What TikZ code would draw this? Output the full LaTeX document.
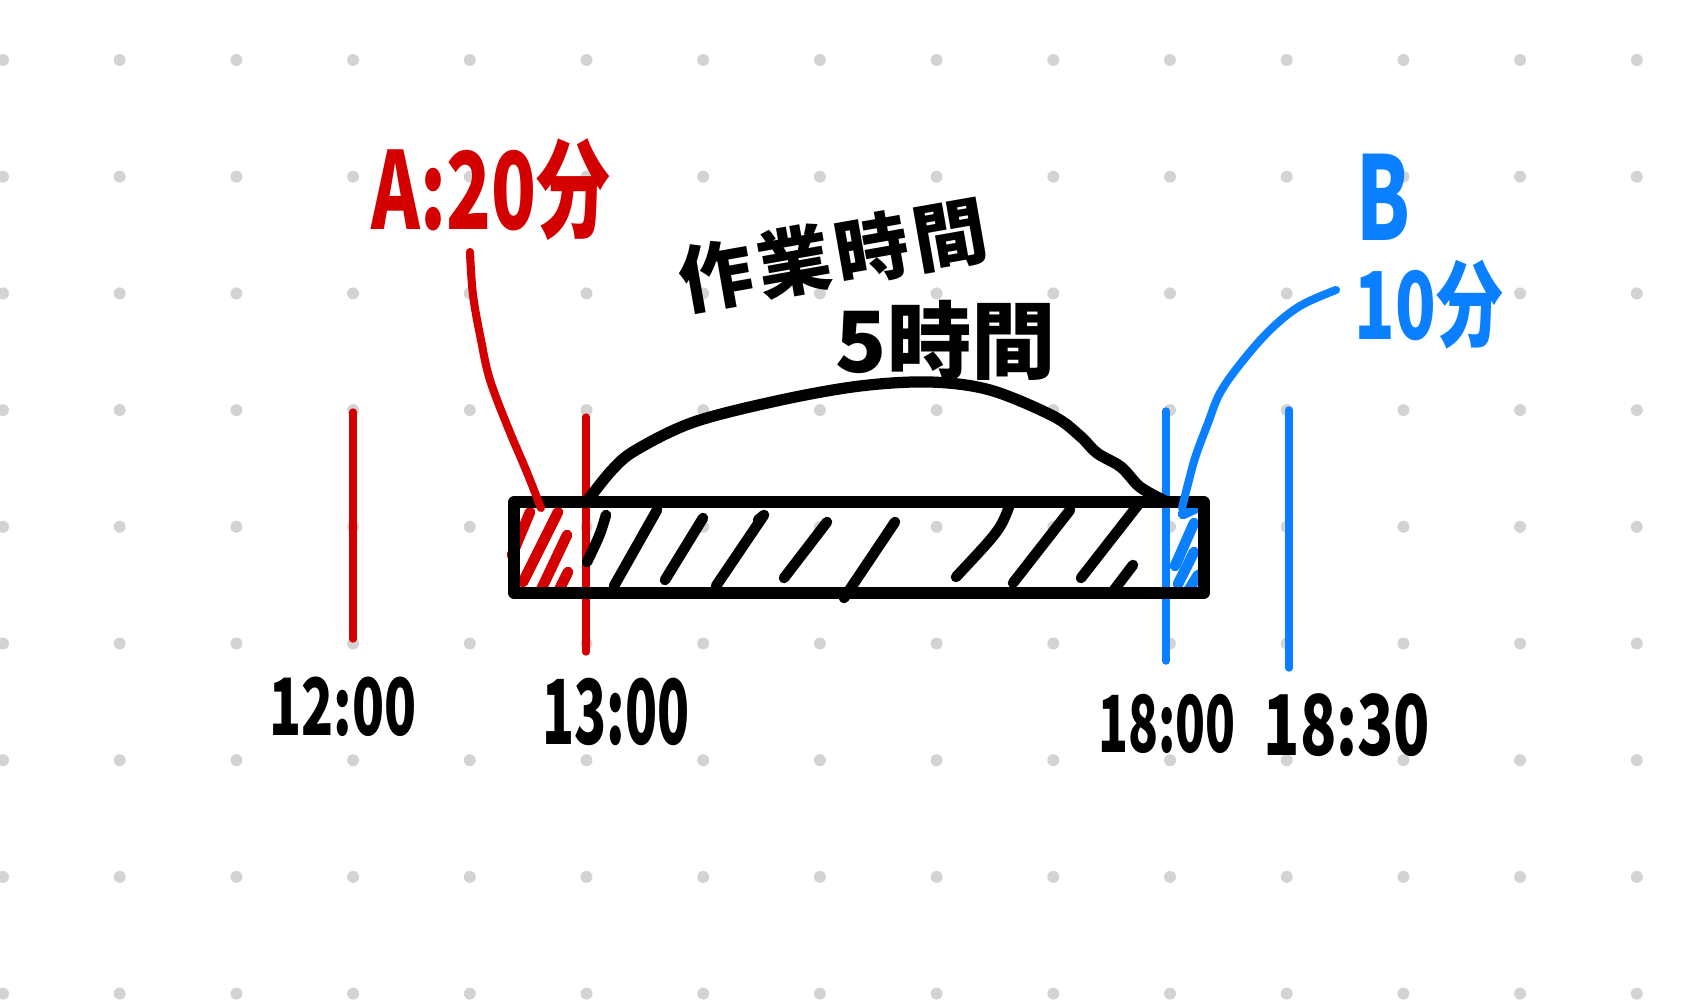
\documentclass[tikz,border=0pt]{standalone}
\usepackage{fontspec}
\newfontfamily\hand{Noto Sans CJK JP}
\definecolor{hred}{HTML}{D40000}
\definecolor{hblue}{HTML}{0A7FFF}
\definecolor{dotgray}{HTML}{D3D3D3}
\begin{document}
\begin{tikzpicture}[x=0.01cm,y=-0.01cm,line cap=round,line join=round,
  pen/.style={line width=3.2pt},
  hatchpen/.style={line width=3pt},
  markline/.style={line width=2.1pt},
  conn/.style={line width=2.3pt},
  lbl/.style={inner sep=0pt,font=\hand\bfseries},
]
\useasboundingbox (0,0) rectangle (1699,1000);
\fill[white] (0,0) rectangle (1699,1000);
% dot grid
\foreach \i in {0,...,14}{
  \foreach \j in {0,...,8}{
    \fill[dotgray] ({3+116.7*\i},{60+116.7*\j}) circle[radius=1.7pt];
  }
}
% time markers
\draw[markline,hred] (353,412) -- (353,639);
\draw[markline,hred] (586,417) -- (586,652);
\draw[markline,hblue] (1166,411) -- (1166,661);
\draw[markline,hblue] (1289,410) -- (1289,668);
% red hatch
\draw[hatchpen,hred] (530,512) -- (512,555);
\draw[hatchpen,hred] (558,512) -- (523,582);
\draw[hatchpen,hred] (567,535) -- (540,592);
\draw[hatchpen,hred] (568,572) -- (559,590);
% blue hatch
\draw[hatchpen,hblue] (1196,508) -- (1183,514);
\draw[hatchpen,hblue] (1194,523) -- (1175,566);
\draw[hatchpen,hblue] (1194,552) -- (1178,584);
\draw[hatchpen,hblue] (1198,575) -- (1188,591);
% black hatch
\draw[hatchpen] (606,515) .. controls (600,535) .. (587,562);
\draw[hatchpen] (657,510) -- (614,586);
\draw[hatchpen] (703,518) -- (665,580);
\draw[hatchpen] (758,520) -- (764,515) -- (716,586);
\draw[hatchpen] (827,522) -- (784,578);
\draw[hatchpen] (895,522) .. controls (870,560) .. (844,598);
\draw[hatchpen] (1009,507) .. controls (1000,530) .. (956,577);
\draw[hatchpen] (1070,510) -- (1013,583);
\draw[hatchpen] (1138,505) -- (1081,578);
\draw[hatchpen] (1133,565) -- (1114,590);
% bar
\draw[pen] (514,502) rectangle (1204,593);
% arc over bar
\draw[pen] plot[smooth,tension=0.55] coordinates {(588,500) (612,470) (636,450) (694,422) (781,400) (860,386) (930,382) (990,390) (1053,416) (1080,436) (1097,453) (1121,467) (1140,487) (1165,501)};
% labels
\node[lbl,text=hred] (alabel) at (491,190) {\fontsize{21pt}{21pt}\selectfont\scalebox{1}[1.45]{A:20分}};
\node[lbl,text=hblue] (blabel) at (1383,197) {\fontsize{22pt}{22pt}\selectfont\scalebox{1}[1.5]{B}};
\node[lbl,text=hblue] (bmin) at (1429,305) {\fontsize{19pt}{19pt}\selectfont\scalebox{1}[1.4]{10分}};
\node[lbl,rotate=10] (work) at (833,255) {\fontsize{21pt}{21pt}\selectfont 作\hspace{1.5pt}業\hspace{1.5pt}時\hspace{1.5pt}間};
\node[lbl] (five) at (946,340) {\fontsize{24pt}{24pt}\selectfont 5時間};
\node[lbl] (t1200) at (343,707) {\fontsize{15pt}{15pt}\selectfont\scalebox{1}[1.5]{12:00}};
\node[lbl] (t1300) at (616,712) {\fontsize{15pt}{15pt}\selectfont\scalebox{1}[1.7]{13:00}};
\node[lbl] (t1800) at (1167,724) {\fontsize{14pt}{14pt}\selectfont\scalebox{1}[1.6]{18:00}};
\node[lbl] (t1830) at (1347,725) {\fontsize{17pt}{17pt}\selectfont\scalebox{1}[1.4]{18:30}};
% connectors
\draw[conn,hred] plot[smooth,tension=0.6] coordinates {(470,252) (473,295) (481,340) (490,380) (509,430) (526,470) (541,508)};
\draw[conn,hblue] plot[smooth,tension=0.6] coordinates {(1336,290) (1300,306) (1270,330) (1241,363) (1220,393) (1208,423) (1196,455) (1189,480) (1182,508)};
\end{tikzpicture}
\end{document}
